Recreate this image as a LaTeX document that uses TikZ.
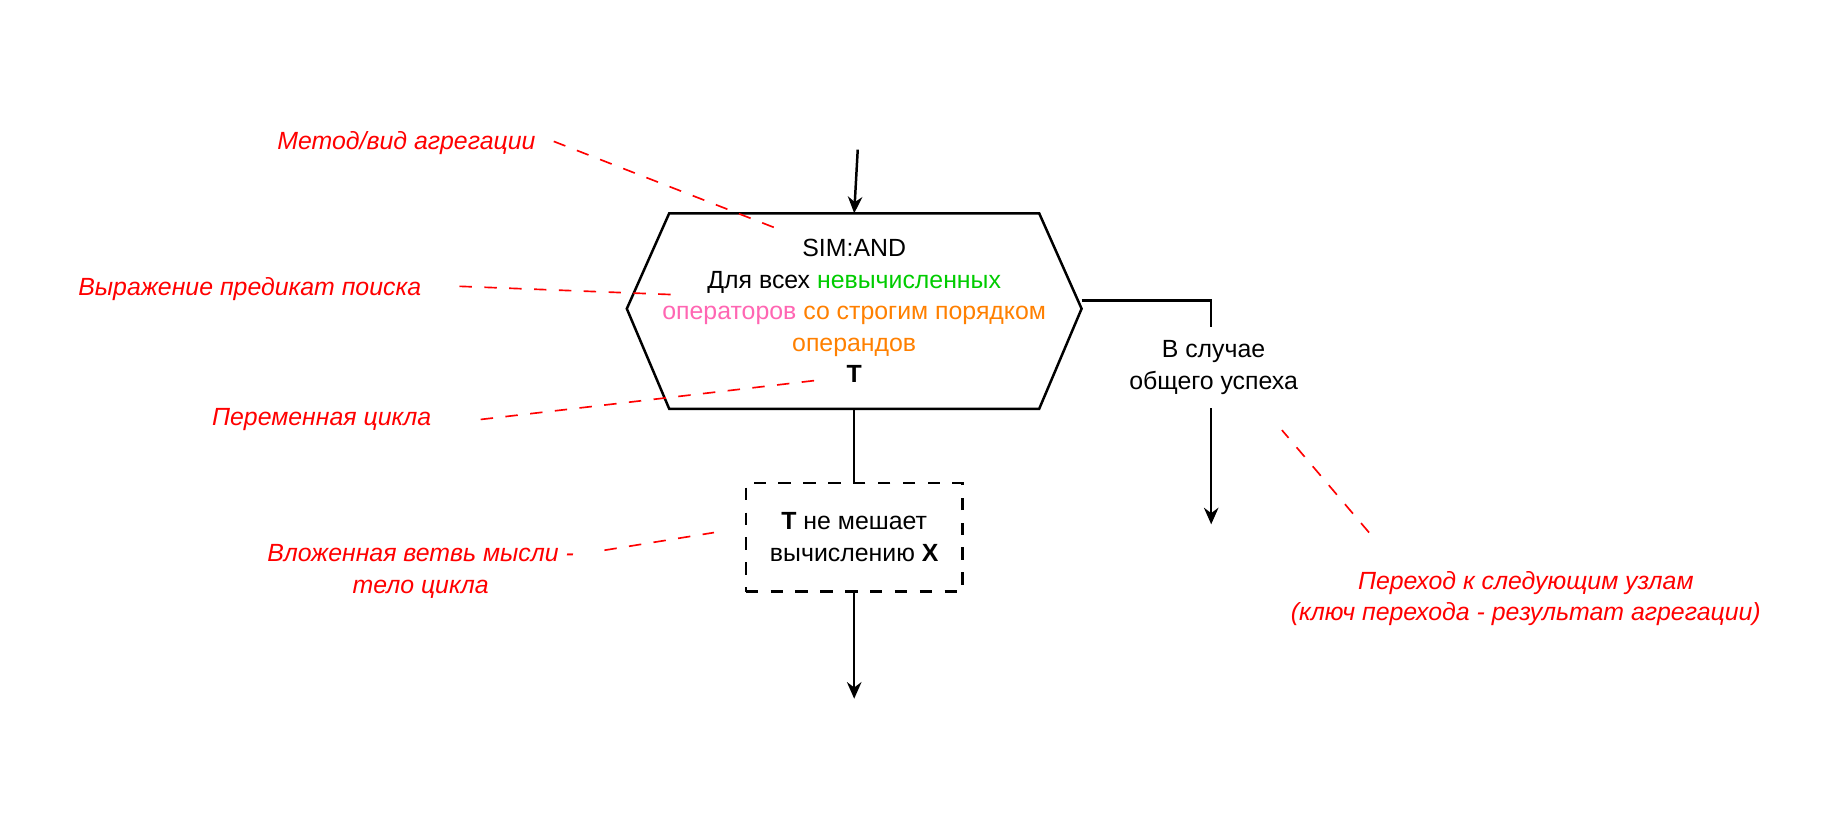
\documentclass[tikz,border=0pt]{standalone}
\usepackage{fontspec}
\usetikzlibrary{arrows.meta}
\setmainfont{Liberation Sans}
\definecolor{gr}{RGB}{0,204,0}
\definecolor{pk}{RGB}{255,102,179}
\definecolor{og}{RGB}{255,128,0}
\begin{document}
\begin{tikzpicture}[x=0.01cm,y=-0.01cm,
  txt/.style={font=\fontsize{6}{7.6}\selectfont,align=center},
  note/.style={font=\fontsize{6}{7.6}\selectfont\itshape,text=red,align=center},
  nline/.style={red,dashed,line width=0.4pt},
  conn/.style={line width=0.6pt,-{Stealth[length=4pt,width=3.5pt]}},
  line width=0.6pt]
\useasboundingbox (0,0) rectangle (1560,690);
\fill[white] (0,0) rectangle (1560,690);
\draw (568,181) coordinate (h1) -- (882,181) -- (918,262) coordinate (hr) -- (882,347) -- (568,347) -- (532,262) -- cycle;
\coordinate (htop) at (725,181);
\coordinate (hbot) at (725,347);
\coordinate (hout) at (918,255);
\node[txt] (htxt) at (725,264) {SIM:AND\\Для всех \textcolor{gr}{невычисленных}\\\textcolor{pk}{операторов} \textcolor{og}{со строгим порядком}\\\textcolor{og}{операндов}\\\textbf{T}};
\coordinate (start) at (728,127);
\draw[conn] (start) -- (htop);
\node[draw,dashed,minimum width=1.84cm,minimum height=0.92cm,txt] (body) at (725,456) {\textbf{T} не мешает\\вычислению \textbf{X}};
\draw (hbot) -- (body.north);
\coordinate (bend) at (725,593);
\draw[conn] (body.south) -- (bend);
\coordinate (rc) at (1028,255);
\coordinate (rend) at (1028,445);
\draw[conn] (hout) -- (rc) -- (rend);
\node[txt,fill=white] (lbl) at (1030,312) {В случае\\общего успеха};
\node[note] (n1) at (345,121) {Метод/вид агрегации};
\node[note] (n2) at (212,245) {Выражение предикат поиска};
\node[note] (n3) at (273,356) {Переменная цикла};
\node[note] (n4) at (357,485) {Вложенная ветвь мысли -\\тело цикла};
\node[note] (n5) at (1295,508) {Переход к следующим узлам\\(ключ перехода - результат агрегации)};
\coordinate (a1) at (470,120); \coordinate (b1) at (662,195);
\coordinate (a2) at (390,243); \coordinate (b2) at (570,250);
\coordinate (a3) at (408,356); \coordinate (b3) at (700,322);
\coordinate (a4) at (513,467); \coordinate (b4) at (606,452);
\coordinate (a5) at (1162,452); \coordinate (b5) at (1088,365);
\draw[nline] (a1) -- (b1);
\draw[nline] (a2) -- (b2);
\draw[nline] (a3) -- (b3);
\draw[nline] (a4) -- (b4);
\draw[nline] (a5) -- (b5);
\end{tikzpicture}
\end{document}
